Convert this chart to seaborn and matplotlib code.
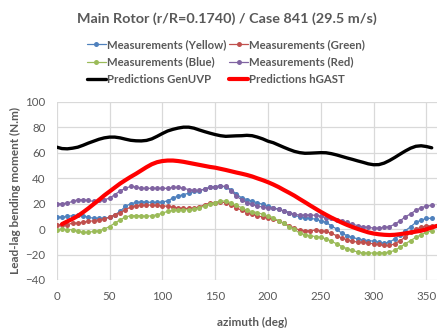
import numpy as np
import pandas as pd
import matplotlib
matplotlib.use("Agg")
import matplotlib.pyplot as plt
import seaborn as sns

# Azimuth stations of the strain-gauge measurements (deg)
azimuth = list(range(0, 360, 5))

meas_yellow = [9.4, 9.4, 9.9, 10.5, 11.0, 10.5, 9.1, 8.6, 8.4, 8.6, 9.1, 11.2, 13.9, 17.8, 19.9, 20.9,
               21.4, 21.2, 20.9, 20.9, 21.2, 22.2, 24.3, 26.0, 27.0, 28.2, 29.5, 30.0, 31.4, 32.7, 33.3, 33.8,
               33.0, 31.0, 27.6, 24.5, 23.2, 22.0, 20.6, 19.4, 18.0, 16.8, 15.5, 14.2, 13.0, 11.0, 9.5, 9.0,
               8.5, 7.7, 6.5, 5.2, 2.6, 0.0, -3.4, -5.2, -6.5, -7.7, -8.5, -9.0, -9.5, -10.3, -11.0, -10.3,
               -7.7, -4.4, -1.3, 1.8, 5.2, 7.0, 8.3, 8.5]
meas_green = [3.4, 3.4, 3.4, 4.7, 4.7, 5.5, 6.0, 6.5, 7.3, 7.8, 9.4, 11.2, 13.0, 15.2, 17.3, 18.3,
              18.8, 18.8, 18.8, 18.6, 18.3, 17.8, 17.3, 16.5, 16.2, 16.2, 16.5, 17.3, 19.1, 20.4, 20.8, 21.4,
              20.6, 18.8, 16.8, 14.7, 13.0, 11.6, 10.3, 9.5, 9.0, 7.7, 6.5, 4.4, 2.6, 0.8, -0.8, -1.3,
              -1.3, -0.8, -1.3, -1.8, -3.4, -5.2, -7.0, -8.5, -9.5, -10.3, -10.3, -11.0, -11.6, -12.1, -12.9, -12.9,
              -11.6, -9.0, -6.5, -2.6, 0.0, 1.3, 2.6, 2.6]
meas_blue = [-0.5, 0.0, -0.5, -0.5, -1.8, -2.6, -2.6, -1.8, -1.3, 0.0, 2.0, 4.7, 7.3, 9.4, 10.5, 10.5,
             10.5, 9.9, 10.5, 11.2, 12.5, 13.9, 14.6, 15.2, 15.2, 15.2, 15.7, 16.5, 18.3, 19.6, 20.8, 22.0,
             22.0, 20.6, 18.6, 16.8, 14.7, 13.7, 12.9, 11.6, 10.3, 9.0, 6.5, 4.4, 1.8, 0.0, -3.4, -4.4,
             -5.2, -5.9, -6.5, -7.7, -9.5, -11.6, -13.7, -15.5, -16.8, -18.0, -18.8, -18.8, -18.8, -18.8, -18.6, -18.0,
             -16.8, -14.2, -11.6, -9.0, -6.5, -4.4, -2.6, -1.3]
meas_red = [19.6, 20.0, 20.4, 21.7, 23.0, 23.0, 22.5, 21.7, 22.5, 23.0, 24.3, 27.0, 30.0, 32.0, 33.5, 33.0,
            32.0, 32.0, 32.0, 32.0, 32.0, 32.0, 32.7, 32.7, 32.0, 31.0, 30.3, 30.3, 31.4, 32.7, 33.3, 33.8,
            33.5, 30.0, 26.0, 23.0, 20.6, 19.4, 18.0, 17.3, 16.8, 16.3, 15.5, 14.2, 13.0, 11.6, 11.0, 11.0,
            11.0, 10.8, 10.0, 9.0, 8.3, 7.5, 6.5, 5.2, 3.9, 2.6, 1.8, 1.3, 0.8, 0.8, 1.3, 1.8,
            3.9, 6.5, 9.5, 12.0, 14.7, 16.8, 18.0, 18.6]

# Numerical predictions (deg, N.m)
azimuth_genuvp = list(range(0, 360, 5))
pred_genuvp = [64.3, 63.2, 63.0, 63.5, 64.3, 65.8, 67.5, 69.0, 70.5, 71.6, 72.2, 72.2, 71.6, 70.6, 69.7, 69.3,
               69.2, 69.6, 70.8, 72.8, 75.0, 77.0, 78.3, 79.3, 80.0, 80.0, 79.2, 77.8, 76.5, 75.3, 74.2, 73.3,
               72.8, 73.0, 73.2, 73.3, 73.6, 73.3, 72.2, 70.8, 69.0, 67.8, 66.0, 64.2, 62.5, 61.0, 60.0, 59.5,
               59.6, 59.8, 60.0, 59.9, 59.2, 58.2, 57.0, 55.8, 54.7, 53.5, 52.4, 51.2, 50.5, 50.6, 51.8, 53.8,
               56.2, 58.8, 61.3, 63.5, 65.0, 65.4, 64.8, 63.8]
azimuth_hgast = list(range(5, 365, 5))
pred_hgast = [3.9, 6.0, 8.0, 10.3, 13.2, 16.3, 19.6, 22.9, 26.4, 29.5, 32.6, 35.7, 38.4, 41.0, 43.4, 46.0,
              48.6, 50.9, 52.5, 53.4, 53.8, 53.8, 53.4, 52.8, 52.0, 51.2, 50.4, 49.6, 48.8, 48.2, 47.3, 46.4,
              45.4, 44.4, 43.5, 42.5, 41.3, 39.8, 38.4, 36.8, 35.0, 33.0, 30.7, 28.5, 26.2, 23.6, 21.1, 18.5,
              16.0, 13.5, 11.2, 9.0, 7.0, 5.0, 3.2, 1.6, 0.1, -1.3, -2.6, -3.5, -4.1, -4.5, -4.7, -4.5,
              -4.0, -3.4, -2.7, -2.0, -1.3, -0.2, 1.2, 2.5]

x_ticks = [0, 50, 100, 150, 200, 250, 300, 350]
y_ticks = [-40, -20, 0, 20, 40, 60, 80, 100]

sns.set_theme(style="white")
plt.rcParams["font.family"] = ["Lato", "DejaVu Sans"]
text_grey = "#595959"

W, H = 437, 329
fig = plt.figure(figsize=(W / 100, H / 100), dpi=100)
ax = fig.add_axes([56.7 / W, 1 - 280 / H, 1 - 56.7 / W, (280 - 101.7) / H])

series = [
    ("Measurements (Yellow)", azimuth, meas_yellow, "#4F81BD"),
    ("Measurements (Green)", azimuth, meas_green, "#C0504D"),
    ("Measurements (Blue)", azimuth, meas_blue, "#9BBB59"),
    ("Measurements (Red)", azimuth, meas_red, "#8064A2"),
]
for name, xs, ys, col in series:
    sns.lineplot(x=xs, y=ys, ax=ax, color=col, linewidth=0.9, marker="o",
                 markersize=3.6, markeredgewidth=0, label=name, sort=False)
sns.lineplot(x=azimuth_genuvp, y=pred_genuvp, ax=ax, color="black", linewidth=2.4,
             label="Predictions GenUVP", sort=False)
sns.lineplot(x=azimuth_hgast, y=pred_hgast, ax=ax, color="#FF0000", linewidth=3.0,
             label="Predictions hGAST", sort=False)

ax.set_xlim(0, 360)
ax.set_ylim(-40, 100)
ax.set_xticks(x_ticks)
ax.set_yticks(y_ticks)
ax.grid(True, color="#D9D9D9", linewidth=0.9)
ax.set_axisbelow(True)
for s in ax.spines.values():
    s.set_visible(False)
ax.tick_params(axis="both", length=0, labelsize=8.3, labelcolor=text_grey)
ax.tick_params(axis="x", pad=8)
ax.tick_params(axis="y", pad=8)
ax.set_xlabel("azimuth (deg)", fontsize=8.5, fontweight="bold", color=text_grey)
ax.xaxis.set_label_coords((252 - 56.7) / (W - 56.7), -(322 - 280) / (280 - 101.7))
ax.xaxis.label.set_va("center")
ax.set_ylabel("Lead-lag bending moment (N.m)", fontsize=8.5, fontweight="bold", color=text_grey)
ax.yaxis.set_label_coords(-(56.7 - 15) / (W - 56.7), (280 - 191) / (280 - 101.7))
ax.yaxis.label.set_va("center")

h, l = ax.get_legend_handles_labels()
ax.get_legend().remove()
order = [0, 2, 4, 1, 3, 5]
leg = fig.legend([h[i] for i in order], [l[i] for i in order], ncol=2,
                 loc="center", bbox_to_anchor=(226 / W, 1 - 62 / H), frameon=False,
                 fontsize=8.2, handlelength=1.7, handletextpad=0.1, columnspacing=0.2,
                 labelspacing=0.55, borderpad=0)
for t in leg.get_texts():
    t.set_color(text_grey)
    t.set_fontweight("bold")

fig.text(227 / W, 1 - 19 / H, "Main Rotor (r/R=0.1740) / Case 841 (29.5 m/s)", ha="center",
         va="center", fontsize=10.4, fontweight="bold", color=text_grey)

fig.savefig("out.png", dpi=100)
